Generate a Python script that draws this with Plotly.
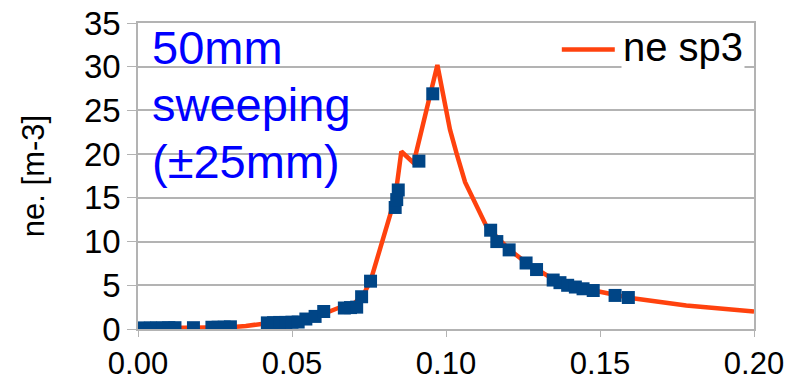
import plotly.graph_objects as go

# Simulation curve "ne sp3"
line_x = [0.000, 0.010, 0.020, 0.030, 0.035, 0.040, 0.045, 0.050, 0.055, 0.060,
          0.065, 0.070, 0.073, 0.0755, 0.078, 0.0807, 0.0835, 0.0855, 0.0895, 0.0972,
          0.1013, 0.1035, 0.1062, 0.1132, 0.1205, 0.126, 0.1348, 0.148, 0.160, 0.178, 0.200]
line_y = [0.10, 0.10, 0.12, 0.20, 0.35, 0.60, 0.80, 0.95, 1.20, 1.70,
          2.40, 2.90, 3.80, 5.50, 8.50, 11.3, 15.0, 20.3, 19.0, 30.2,
          22.8, 20.0, 16.8, 11.7, 9.1, 7.6, 5.7, 4.4, 3.55, 2.7, 2.0]

# Measured points
pts_x = [0.000, 0.002, 0.004, 0.006, 0.008, 0.010, 0.012, 0.018,
         0.024, 0.026, 0.028, 0.030,
         0.042, 0.044, 0.046, 0.048, 0.050, 0.052,
         0.0545, 0.0575, 0.0603, 0.067, 0.069, 0.071, 0.0726, 0.0755,
         0.0835, 0.0840, 0.0845, 0.0912, 0.0957,
         0.1145, 0.1165, 0.1205, 0.126, 0.1294,
         0.1348, 0.137, 0.1395, 0.142, 0.1445, 0.1478,
         0.1549, 0.1592]
pts_y = [0.10, 0.10, 0.12, 0.12, 0.12, 0.15, 0.15, 0.15,
         0.20, 0.20, 0.22, 0.25,
         0.70, 0.72, 0.75, 0.75, 0.78, 0.80,
         1.14, 1.44, 2.00, 2.40, 2.45, 2.50, 3.69, 5.47,
         13.9, 14.8, 15.9, 19.2, 26.9,
         11.3, 10.0, 9.05, 7.55, 6.8,
         5.6, 5.3, 5.0, 4.8, 4.6, 4.4,
         3.84, 3.6]

x_ticks = [0.00, 0.05, 0.10, 0.15, 0.20]
x_tick_text = ["0.00", "0.05", "0.10", "0.15", "0.20"]
y_ticks = [0, 5, 10, 15, 20, 25, 30, 35]

note_lines = ["50mm", "sweeping", "(±25mm)"]
series_name = "ne sp3"

FONT = "Liberation Sans, Arial, sans-serif"
GRID = "#b3b3b3"
LINE_COLOR = "#ff420e"

fig = go.Figure()
fig.add_trace(go.Scatter(
    x=line_x, y=line_y, mode="lines", name=series_name,
    line=dict(color=LINE_COLOR, width=4.5), showlegend=False))
fig.add_trace(go.Scatter(
    x=pts_x, y=pts_y, mode="markers", name="data",
    marker=dict(symbol="square", size=13, color="#004586"), showlegend=False))

# blue note, one annotation per line
for txt, yy in zip(note_lines, [0.921, 0.735, 0.549]):
    fig.add_annotation(
        xref="paper", yref="paper", x=0.02, y=yy, xanchor="left", yanchor="middle",
        text=txt, showarrow=False, align="left",
        font=dict(family=FONT, size=47, color="#0000ff"))

# legend (drawn as a sample line plus text)
fig.add_shape(type="line", xref="paper", yref="paper",
              x0=0.688, x1=0.774, y0=0.913, y1=0.913,
              line=dict(color=LINE_COLOR, width=4.5))
fig.add_annotation(
    xref="paper", yref="paper", x=0.784, y=0.922, xanchor="left", yanchor="middle",
    text=series_name, showarrow=False, bgcolor="white",
    font=dict(family=FONT, size=40, color="black"))

fig.update_layout(
    width=786, height=382,
    margin=dict(l=138, r=32, t=23, b=53),
    paper_bgcolor="white", plot_bgcolor="white",
    font=dict(family=FONT, size=32, color="black"),
    showlegend=False,
    xaxis=dict(range=[0, 0.2], tickvals=x_ticks, ticktext=x_tick_text,
               automargin=False,
               showgrid=False, zeroline=False, showline=True, linecolor=GRID,
               linewidth=1.5, mirror=True, ticks="outside", ticklen=6, tickcolor=GRID,
               tickfont=dict(family=FONT, size=31, color="black")),
    yaxis=dict(range=[0, 35], tickvals=y_ticks, showgrid=True, gridcolor=GRID,
               automargin=False,
               gridwidth=1.5, zeroline=False, showline=True, linecolor=GRID,
               linewidth=1.5, mirror=True, ticks="outside", ticklen=9, tickcolor=GRID,
               tickfont=dict(family=FONT, size=33, color="black"),
               title=dict(text="ne. [m-3]", standoff=30,
                          font=dict(family=FONT, size=31, color="black"))),
)

fig.write_html("out.html")
